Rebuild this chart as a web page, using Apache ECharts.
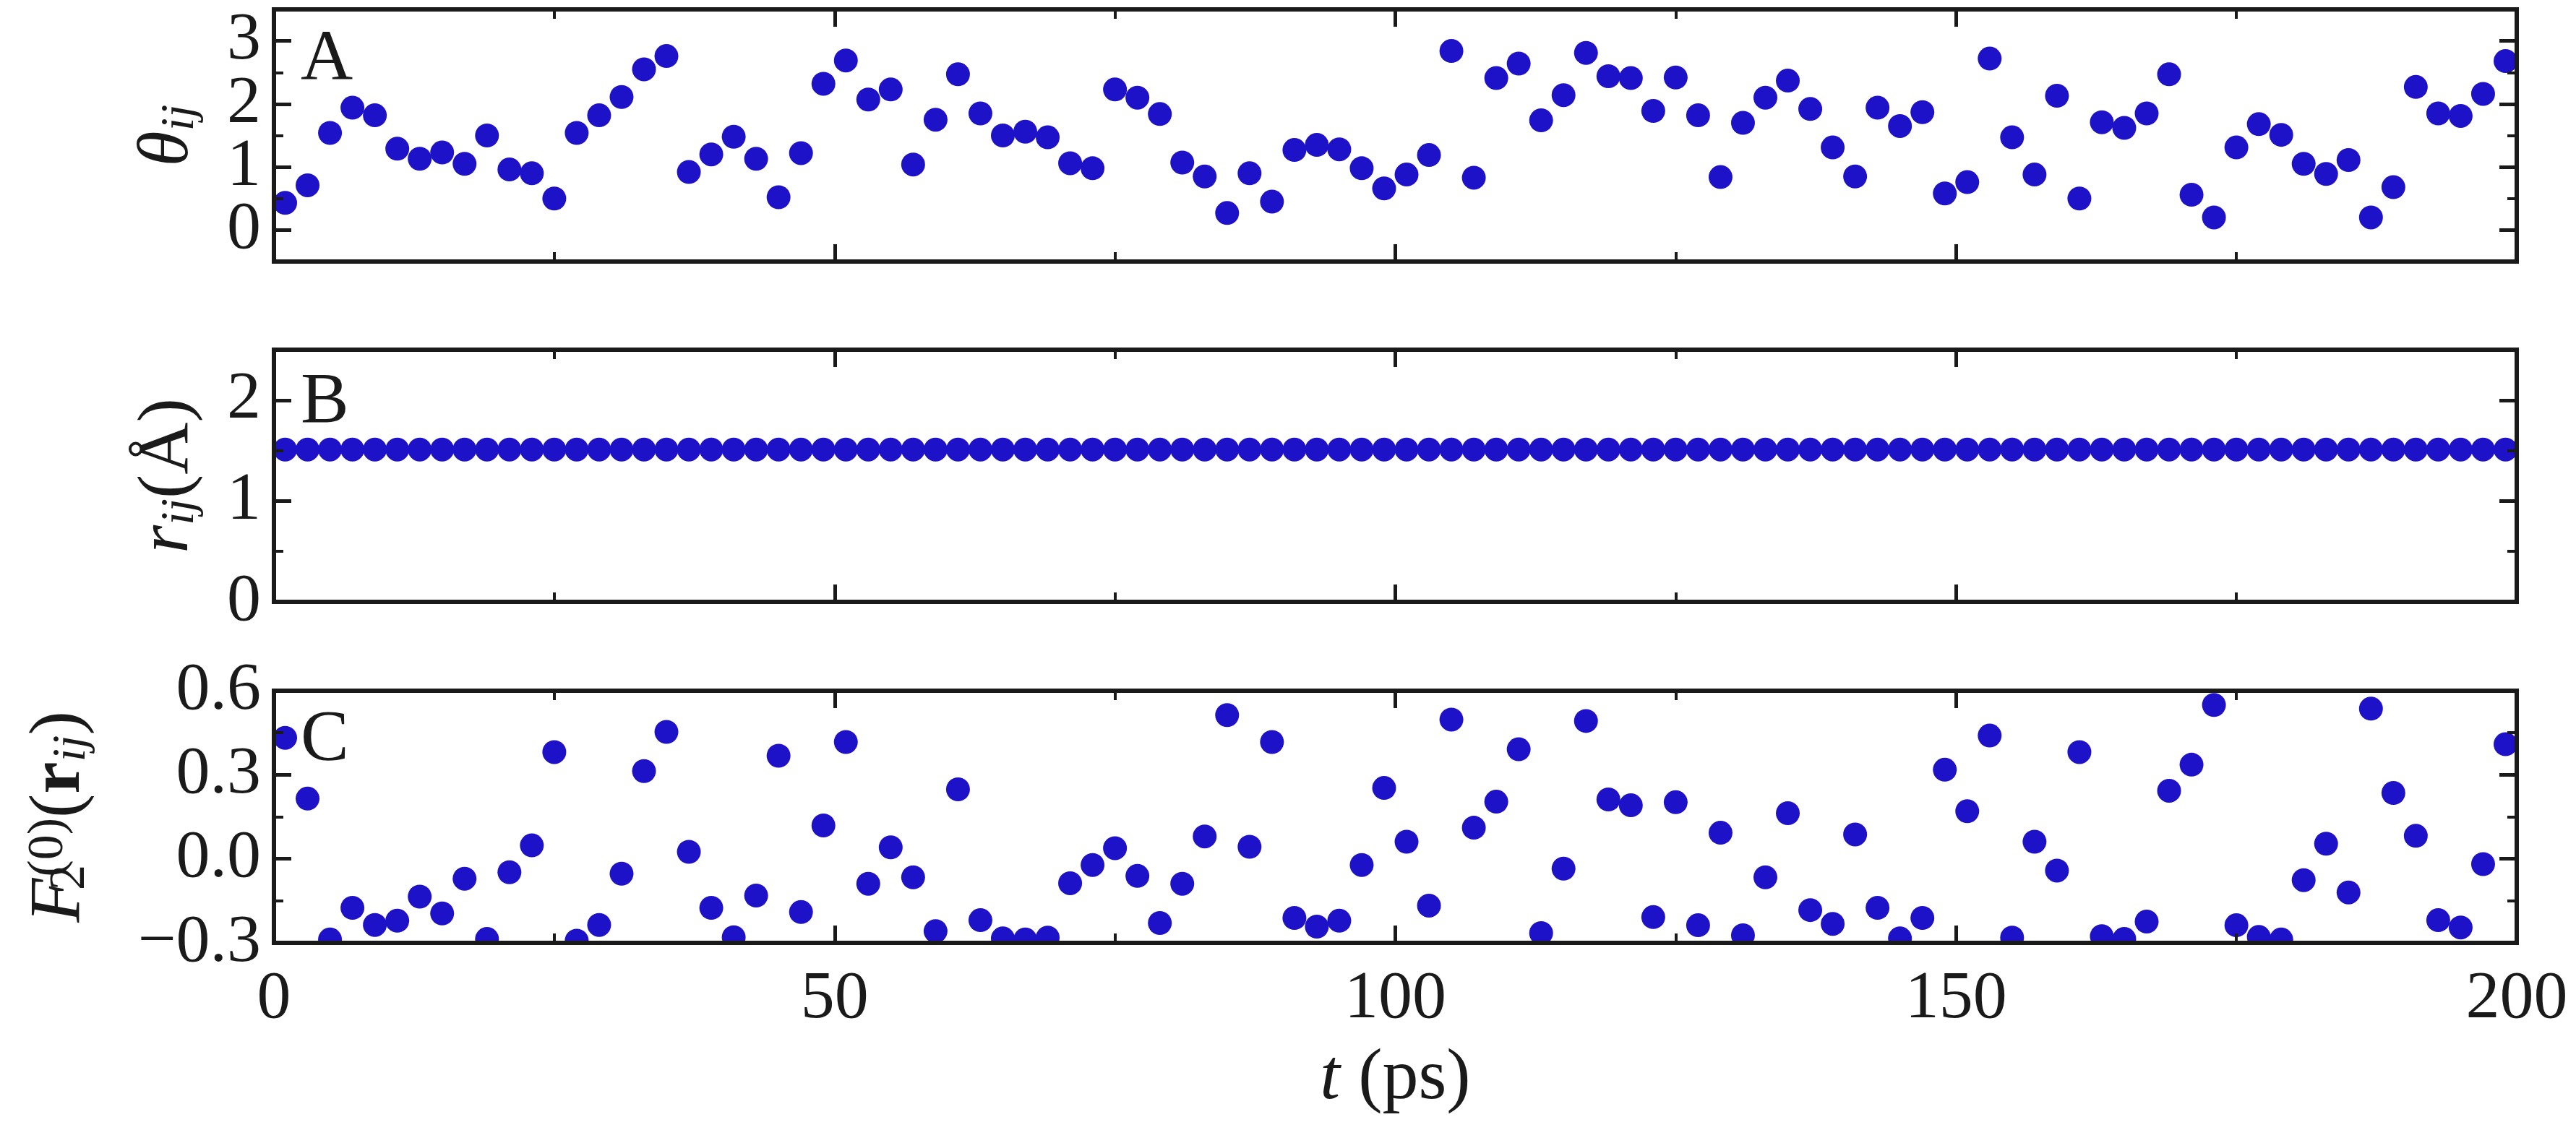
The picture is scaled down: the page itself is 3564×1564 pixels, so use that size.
<!DOCTYPE html>
<html>
<head>
<meta charset="utf-8">
<style>
html, body { margin: 0; padding: 0; background: #fff; }
#chart { width: 3564px; height: 1564px; }
</style>
<script src="https://cdn.jsdelivr.net/npm/echarts@6/dist/echarts.min.js"></script>
</head>
<body>
<div id="chart"></div>
<script>
var SERIF = '"Liberation Serif", "DejaVu Serif", serif';
var INK = '#1a1a1a';
var DOT = '#1e12c9';

// time points (ps)
var tValues = [1, 3, 5, 7, 9, 11, 13, 15, 17, 19, 21, 23, 25, 27, 29, 31, 33, 35, 37, 39,
	41, 43, 45, 47, 49, 51, 53, 55, 57, 59, 61, 63, 65, 67, 69, 71, 73, 75, 77, 79,
	81, 83, 85, 87, 89, 91, 93, 95, 97, 99, 101, 103, 105, 107, 109, 111, 113, 115, 117, 119,
	121, 123, 125, 127, 129, 131, 133, 135, 137, 139, 141, 143, 145, 147, 149, 151, 153, 155, 157, 159,
	161, 163, 165, 167, 169, 171, 173, 175, 177, 179, 181, 183, 185, 187, 189, 191, 193, 195, 197, 199];

// A: theta_ij
var thetaValues = [0.43, 0.71, 1.54, 1.94, 1.82, 1.29, 1.13, 1.23, 1.05, 1.50,
	0.96, 0.90, 0.50, 1.54, 1.82, 2.11, 2.55, 2.76, 0.92, 1.20,
	1.48, 1.13, 0.52, 1.22, 2.32, 2.69, 2.07, 2.23, 1.04, 1.75,
	2.47, 1.85, 1.50, 1.56, 1.47, 1.06, 0.98, 2.23, 2.10, 1.84,
	1.07, 0.85, 0.27, 0.90, 0.45, 1.27, 1.35, 1.28, 0.98, 0.66,
	0.88, 1.19, 2.84, 0.83, 2.41, 2.64, 1.74, 2.14, 2.81, 2.44,
	2.41, 1.89, 2.42, 1.82, 0.84, 1.70, 2.10, 2.37, 1.92, 1.31,
	0.85, 1.94, 1.65, 1.87, 0.58, 0.76, 2.72, 1.47, 0.88, 2.13,
	0.50, 1.71, 1.62, 1.85, 2.47, 0.56, 0.20, 1.31, 1.68, 1.51,
	1.05, 0.89, 1.11, 0.20, 0.68, 2.27, 1.85, 1.81, 2.16, 2.68];

// B: r_ij (Å)
var rValues = [1.51, 1.51, 1.51, 1.51, 1.51, 1.51, 1.51, 1.51, 1.51, 1.51,
	1.51, 1.51, 1.51, 1.51, 1.51, 1.51, 1.51, 1.51, 1.51, 1.51,
	1.51, 1.51, 1.51, 1.51, 1.51, 1.51, 1.51, 1.51, 1.51, 1.51,
	1.51, 1.51, 1.51, 1.51, 1.51, 1.51, 1.51, 1.51, 1.51, 1.51,
	1.51, 1.51, 1.51, 1.51, 1.51, 1.51, 1.51, 1.51, 1.51, 1.51,
	1.51, 1.51, 1.51, 1.51, 1.51, 1.51, 1.51, 1.51, 1.51, 1.51,
	1.51, 1.51, 1.51, 1.51, 1.51, 1.51, 1.51, 1.51, 1.51, 1.51,
	1.51, 1.51, 1.51, 1.51, 1.51, 1.51, 1.51, 1.51, 1.51, 1.51,
	1.51, 1.51, 1.51, 1.51, 1.51, 1.51, 1.51, 1.51, 1.51, 1.51,
	1.51, 1.51, 1.51, 1.51, 1.51, 1.51, 1.51, 1.51, 1.51, 1.51];

// C: F2(0)(r_ij)
var fValues = [0.432, 0.215, -0.288, -0.175, -0.236, -0.221, -0.135, -0.195, -0.071, -0.286,
	-0.048, 0.048, 0.381, -0.292, -0.236, -0.053, 0.313, 0.453, 0.025, -0.175,
	-0.280, -0.131, 0.368, -0.190, 0.119, 0.417, -0.089, 0.041, -0.066, -0.258,
	0.248, -0.219, -0.284, -0.288, -0.281, -0.087, -0.022, 0.038, -0.061, -0.229,
	-0.089, 0.080, 0.513, 0.043, 0.417, -0.211, -0.242, -0.221, -0.022, 0.253,
	0.061, -0.167, 0.497, 0.111, 0.204, 0.391, -0.265, -0.035, 0.492, 0.212,
	0.191, -0.208, 0.202, -0.237, 0.093, -0.273, -0.066, 0.163, -0.183, -0.232,
	0.087, -0.175, -0.284, -0.211, 0.318, 0.170, 0.440, -0.281, 0.061, -0.042,
	0.381, -0.276, -0.286, -0.224, 0.243, 0.336, 0.549, -0.237, -0.279, -0.288,
	-0.076, 0.054, -0.120, 0.536, 0.235, 0.082, -0.219, -0.245, -0.019, 0.409];

// tick values (A is padded with the axis ends, which are dropped below)
var thetaTicks = [-0.5, 0, 1, 2, 3, 3.5];
var thetaMinorTicks = [0.5, 1.5, 2.5];
var rTicks = [0, 1, 2];
var rMinorTicks = [0.5, 1.5];
var fTicks = [-0.3, 0, 0.3, 0.6];
var fMinorTicks = [-0.15, 0.15, 0.45];

var RICH = {
	it: { fontFamily: SERIF, fontStyle: 'italic', fontSize: 100, lineHeight: 100, color: INK },
	up: { fontFamily: SERIF, fontSize: 100, lineHeight: 100, color: INK },
	bf: { fontFamily: SERIF, fontWeight: 'bold', fontSize: 100, lineHeight: 100, color: INK },
	sub: { fontFamily: SERIF, fontStyle: 'italic', fontSize: 66, lineHeight: 32, verticalAlign: 'bottom', color: INK },
	sub2: { fontFamily: SERIF, fontSize: 70, lineHeight: 18, verticalAlign: 'bottom', width: 2, color: INK },
	sup: { fontFamily: SERIF, fontSize: 70, lineHeight: 32, verticalAlign: 'top', color: INK }
};

var panels = [
	{ top: 13, min: -0.5, max: 3.5, ticks: thetaTicks, minor: thetaMinorTicks, values: thetaValues, ends: false,
		name: '{it|θ}{sub|ij}', gap: 96, tag: 'A', tagTop: 34, digits: 0 },
	{ top: 484, min: 0, max: 2.5, ticks: rTicks, minor: rMinorTicks, values: rValues, ends: true,
		name: '{it|r}{sub|ij}{up|(Å)}', gap: 96, tag: 'B', tagTop: 508, digits: 0 },
	{ top: 956, min: -0.3, max: 0.6, ticks: fTicks, minor: fMinorTicks, values: fValues, ends: true,
		name: '{it|F}{sub2|2}{sup|(0)}{up|(}{bf|r}{sub|ij}{up|)}', gap: 246, tag: 'C', tagTop: 975, digits: 1 }
];

function drawDot(params, api) {
	var c = api.coord([api.value(0), api.value(1)]);
	return { type: 'circle', shape: { cx: c[0], cy: c[1], r: 16.5 }, style: { fill: DOT } };
}

function tickLabel(digits) {
	return function (v) {
		var s = Math.abs(v).toFixed(digits);
		return v < -1e-9 ? '\u2212' + s : s;
	};
}

var grids = [], xAxes = [], yAxes = [], series = [], tags = [];

panels.forEach(function (p, i) {
	var last = i === panels.length - 1;
	grids.push({ left: 379, width: 3103, top: p.top, height: 349, outerBoundsMode: 'none' });

	['bottom', 'top'].forEach(function (pos) {
		var labelled = last && pos === 'bottom';
		xAxes.push({
			type: 'value', gridIndex: i, position: pos, min: 0, max: 200, interval: 50, z: 10,
			axisLine: { show: true, onZero: false, lineStyle: { color: INK, width: 6, cap: 'square' } },
			axisTick: { show: true, inside: true, length: 24, lineStyle: { color: INK, width: 5 } },
			minorTick: { show: true, splitNumber: 2, length: 13, lineStyle: { color: INK, width: 4 } },
			axisLabel: { show: labelled, margin: 31, showMinLabel: true, showMaxLabel: true,
				fontFamily: SERIF, fontSize: 94, color: INK },
			splitLine: { show: false },
			name: labelled ? '{it|t}{up| (ps)}' : '',
			nameLocation: 'middle', nameGap: 139, nameMoveOverlap: false,
			nameTextStyle: { rich: RICH }
		});
	});

	['left', 'right'].forEach(function (pos) {
		// frame line + short ticks
		yAxes.push({
			type: 'value', gridIndex: i, position: pos, min: p.min, max: p.max, z: 10,
			axisLine: { show: true, onZero: false, lineStyle: { color: INK, width: 6, cap: 'square' } },
			axisTick: { show: true, inside: true, length: 13, customValues: p.minor, lineStyle: { color: INK, width: 4 } },
			axisLabel: { show: false },
			splitLine: { show: false }
		});
		// long ticks + labels
		yAxes.push({
			type: 'value', gridIndex: i, position: pos, min: p.min, max: p.max, z: 10,
			axisLine: { show: false, onZero: false },
			axisTick: { show: true, inside: true, length: 24, customValues: p.ticks, lineStyle: { color: INK, width: 5 } },
			axisLabel: { show: pos === 'left', customValues: p.ticks, margin: 18, formatter: tickLabel(p.digits),
				showMinLabel: p.ends, showMaxLabel: p.ends, hideOverlap: false,
				fontFamily: SERIF, fontSize: 94, color: INK },
			splitLine: { show: false },
			name: pos === 'left' ? p.name : '',
			nameLocation: 'middle', nameGap: p.gap, nameRotate: 90, nameMoveOverlap: false,
			nameTextStyle: { rich: RICH }
		});
	});

	series.push({
		type: 'custom', xAxisIndex: 2 * i, yAxisIndex: 4 * i, clip: true, z: 2,
		encode: { x: 0, y: 1 },
		data: tValues.map(function (t, k) { return [t, p.values[k]]; }),
		renderItem: drawDot
	});

	tags.push({ type: 'text', left: 416, top: p.tagTop, z: 20,
		style: { text: p.tag, font: '100px ' + SERIF, fill: INK } });
});

var mychart = echarts.init(document.getElementById('chart'));
mychart.setOption({
	animation: false,
	backgroundColor: '#ffffff',
	grid: grids,
	xAxis: xAxes,
	yAxis: yAxes,
	series: series,
	graphic: tags
});
</script>
</body>
</html>
